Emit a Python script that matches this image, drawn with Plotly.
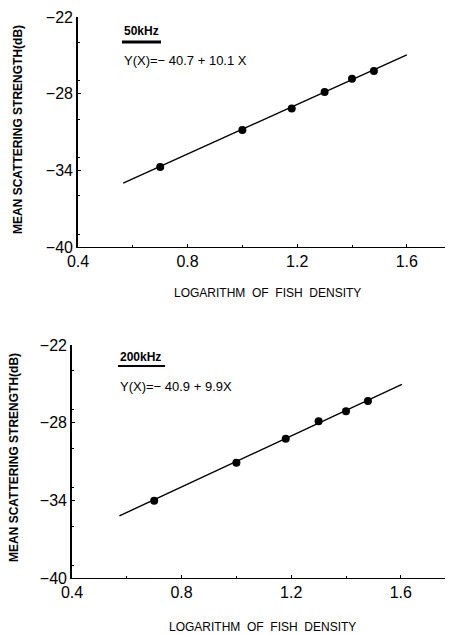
import plotly.graph_objects as go

# ---- data ----
x_50 = [0.70, 1.00, 1.18, 1.30, 1.40, 1.48]
y_50 = [-33.74, -30.84, -29.17, -27.87, -26.83, -26.23]
fit_x_50 = [0.565, 1.60]
fit_y_50 = [-35.0, -24.97]

x_200 = [0.70, 1.00, 1.18, 1.30, 1.40, 1.48]
y_200 = [-34.03, -31.09, -29.24, -27.90, -27.12, -26.33]
fit_x_200 = [0.573, 1.604]
fit_y_200 = [-35.2, -25.04]

y_ticks = [-22, -28, -34, -40]
y_ticklabels = ["\u221222", "\u221228", "\u221234", "\u221240"]
x_ticks = [0.4, 0.8, 1.2, 1.6]
x_ticklabels = ["0.4", "0.8", "1.2", "1.6"]

labels = ["50kHz", "200kHz"]
equations = ["Y(X)=\u2212 40.7 + 10.1 X", "Y(X)=\u2212 40.9 + 9.9X"]
x_title = "LOGARITHM  OF  FISH  DENSITY"
y_title = "MEAN SCATTERING STRENGTH(dB)"

# page has an 8px body margin: the figure starts at (8, 8) in the window
OFF = 8
WIN_W, WIN_H = 453, 635
W, H = WIN_W - OFF, WIN_H - OFF
FONT = "Liberation Sans, Arial, sans-serif"


def px(x):
    return (x - OFF) / W


def py(y):
    return 1 - (y - OFF) / H


fig = go.Figure()

fig.add_trace(go.Scatter(x=fit_x_50, y=fit_y_50, mode="lines",
                         line=dict(color="black", width=1.4),
                         xaxis="x", yaxis="y", showlegend=False))
fig.add_trace(go.Scatter(x=x_50, y=y_50, mode="markers",
                         marker=dict(color="black", size=8),
                         xaxis="x", yaxis="y", showlegend=False))
fig.add_trace(go.Scatter(x=fit_x_200, y=fit_y_200, mode="lines",
                         line=dict(color="black", width=1.4),
                         xaxis="x2", yaxis="y2", showlegend=False))
fig.add_trace(go.Scatter(x=x_200, y=y_200, mode="markers",
                         marker=dict(color="black", size=8),
                         xaxis="x2", yaxis="y2", showlegend=False))

# plot-area geometry (window pixels)
panels = [
    dict(left=78, top=17, bottom=247),
    dict(left=72, top=345, bottom=578),
]

common_x = dict(showline=True, linecolor="black", linewidth=1.3, showgrid=False,
                zeroline=False, tickmode="array", tickvals=x_ticks, ticktext=x_ticklabels,
                ticks="inside", ticklen=3, tickcolor="black", automargin=False,
                minor=dict(dtick=0.2, ticks="inside", ticklen=2, tickcolor="black"),
                tickfont=dict(family=FONT, size=16, color="black"))
common_y = dict(showline=True, linecolor="black", linewidth=1.6, showgrid=False,
                zeroline=False, tickmode="array", tickvals=y_ticks, ticktext=y_ticklabels,
                ticks="inside", ticklen=3, tickcolor="black", automargin=False,
                minor=dict(dtick=3, ticks="inside", ticklen=2, tickcolor="black"),
                tickfont=dict(family=FONT, size=16, color="black"))

layout = dict(width=W, height=H, margin=dict(l=0, r=0, t=0, b=0, pad=0),
              paper_bgcolor="white", plot_bgcolor="white", showlegend=False)

for i, p in enumerate(panels):
    sx = "" if i == 0 else "2"
    xr = [0.4, 0.4 + (WIN_W - p["left"]) / 274.0]
    layout["xaxis" + sx] = dict(common_x, domain=[px(p["left"]), 1.0], range=xr,
                                anchor="y" + sx)
    layout["yaxis" + sx] = dict(common_y, domain=[py(p["bottom"]), py(p["top"])],
                                range=[-40, -22], anchor="x" + sx)

fig.update_layout(**layout)

ann = []
shapes = []
# titles / labels positions (window pixels)
pos = [
    dict(xt=267, yt=293, yy=130, yx=18, lx=122, ly=31, ul=(122, 161, 42), ex=122, ey=60),
    dict(xt=262, yt=627, yy=458, yx=14, lx=118, ly=357, ul=(118, 165, 366), ex=118, ey=386),
]
for i, q in enumerate(pos):
    ann.append(dict(x=px(q["xt"]), y=py(q["yt"]), xref="paper", yref="paper",
                    text=x_title, showarrow=False, xanchor="center", yanchor="middle",
                    font=dict(family=FONT, size=12, color="black")))
    ann.append(dict(x=px(q["yx"]), y=py(q["yy"]), xref="paper", yref="paper",
                    text="<b>" + y_title + "</b>", showarrow=False, textangle=-90,
                    xanchor="center", yanchor="middle",
                    font=dict(family=FONT, size=12, color="black")))
    ann.append(dict(x=px(q["lx"]), y=py(q["ly"]), xref="paper", yref="paper",
                    text="<b>" + labels[i] + "</b>", showarrow=False, xanchor="left",
                    yanchor="middle", font=dict(family=FONT, size=12, color="black")))
    ann.append(dict(x=px(q["ex"]), y=py(q["ey"]), xref="paper", yref="paper",
                    text=equations[i], showarrow=False, xanchor="left",
                    yanchor="middle", font=dict(family=FONT, size=13, color="black")))
    x0, x1, yu = q["ul"]
    shapes.append(dict(type="line", xref="paper", yref="paper",
                       x0=px(x0), x1=px(x1), y0=py(yu), y1=py(yu),
                       line=dict(color="black", width=3 if i == 0 else 2)))

fig.update_layout(annotations=ann, shapes=shapes)
fig.write_html("out.html")
